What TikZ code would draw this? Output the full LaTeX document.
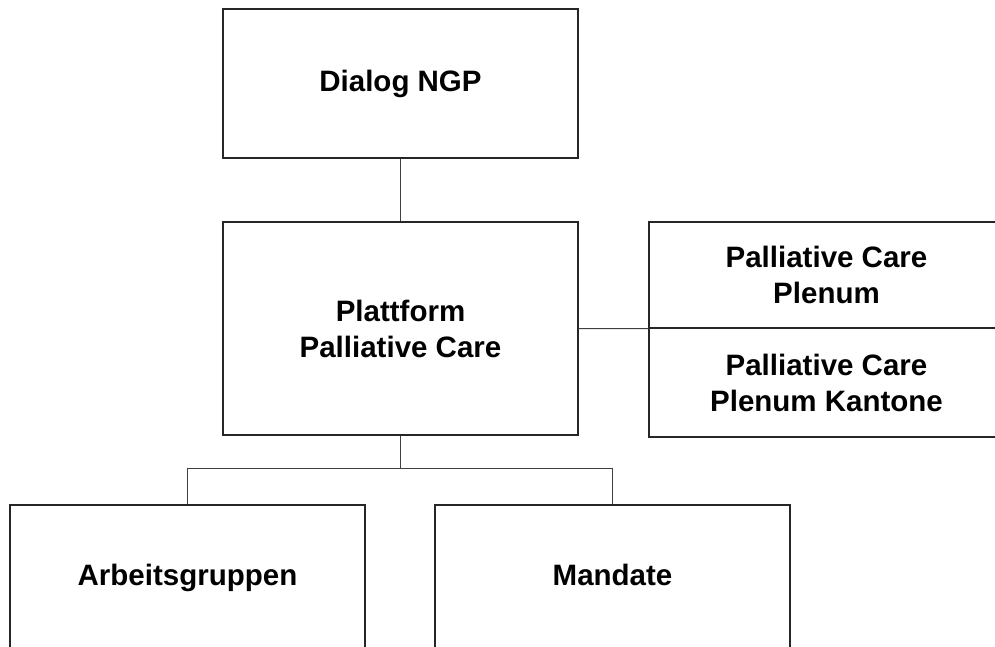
\documentclass[tikz,border=0pt]{standalone}
\usepackage{fontspec}
\setmainfont{Liberation Sans}
\begin{document}
\begin{tikzpicture}[x=1pt,y=-1pt,
  orgbox/.style={draw=black!85, line width=1.3pt, rectangle, inner sep=0pt,
    minimum width=355pt, align=center,
    font=\fontsize{29.5}{36}\selectfont\bfseries},
  oneline/.style={text height=21pt, text depth=6pt},
  link/.style={draw=black!75, line width=1pt}]
  \useasboundingbox (0,0) rectangle (995,646);
  \clip (0,0) rectangle (995,646);

  % top level
  \node[orgbox, oneline, minimum height=149pt] (dialog) at (400.5,83.5) {Dialog NGP};
  \node[orgbox, minimum height=213pt] (platt) at (400.5,328.5) {Plattform\\Palliative Care};

  % plenum boxes on the right
  \node[orgbox, minimum height=106pt] (plenum) at (826.5,275) {Palliative Care\\Plenum};
  \node[orgbox, minimum height=109pt] (kantone) at (826.5,382.5) {Palliative Care\\Plenum Kantone};

  % lower level
  \node[orgbox, oneline, minimum height=146pt] (ag) at (187.5,578) {Arbeitsgruppen};
  \node[orgbox, oneline, minimum height=146pt] (mand) at (612.5,578) {Mandate};

  % connectors
  \draw[link] (dialog.south) -- (platt.north);
  \draw[link] (platt.east) -- (plenum.south west);
  \coordinate (fork) at (400.5,468);
  \draw[link] (platt.south) -- (fork);
  \draw[link] (ag.north) |- (fork) -| (mand.north);
\end{tikzpicture}
\end{document}
